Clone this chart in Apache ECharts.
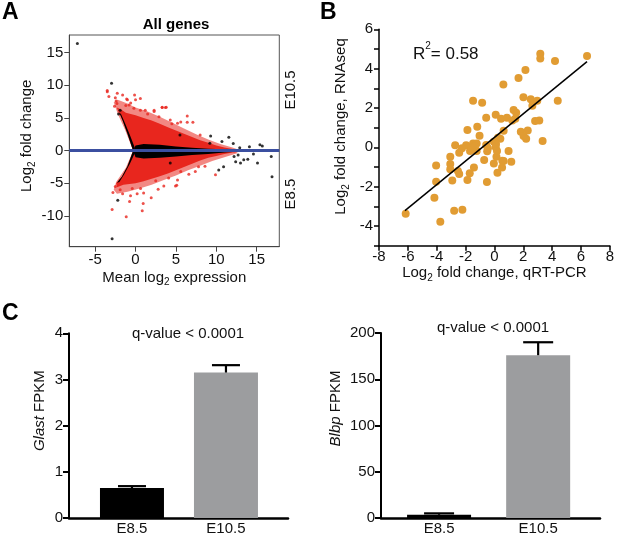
<!DOCTYPE html>
<html>
<head>
<meta charset="utf-8">
<script src="https://cdn.jsdelivr.net/npm/echarts@6.0.0/dist/echarts.min.js"></script>
<style>
  html, body { margin: 0; padding: 0; background: #fff; }
  #chart { width: 617px; height: 536px; }
</style>
</head>
<body>
<div id="chart"></div>
<script>
// panel A - MA plot, dense cloud outlines
var aRedFringe = [
  [-0.3, 0], [-1.3, 3.2], [-2.2, 5.6], [-2.7, 7.4], [-2.2, 7.8], [-1.0, 7.2], [0, 6.6],
  [1.5, 6.0], [3, 5.2], [4.5, 4.3], [6, 3.4], [7.5, 2.5], [9, 1.7], [10.5, 1.0], [12, 0.5],
  [12.6, 0.2], [12.6, -0.4], [11, -1.0], [9.5, -1.6], [8, -2.3], [6.5, -3.0], [5, -3.8],
  [3.5, -4.5], [2, -5.2], [0.5, -5.8], [-1, -6.3], [-2.3, -6.6], [-2.7, -6.0], [-2.4, -4.8],
  [-1.2, -2.6], [-0.3, 0]
];
var aRedOutline = [
  [-0.3, 0], [-1.0, 2.6], [-1.6, 4.6], [-2.2, 6.2], [-2.3, 6.6], [-1.8, 6.3], [-1.2, 5.8],
  [0, 5.4], [1, 5.0], [2, 4.6], [3, 4.1], [4, 3.6], [5, 3.1], [6, 2.6], [7, 2.1], [8, 1.6],
  [9, 1.2], [10, 0.8], [11, 0.5], [12, 0.25], [12.4, 0.1],
  [12.4, -0.3], [12, -0.3], [11, -0.5], [10, -0.8], [9, -1.1], [8, -1.5], [7, -2.0],
  [6, -2.5], [5, -3.0], [4, -3.5], [3, -3.9], [2, -4.3], [1, -4.7], [0, -5.0],
  [-1.5, -5.2], [-2.3, -5.6], [-2.4, -5.0], [-1.7, -4.0], [-1.0, -2.4], [-0.3, 0]
];
var aBlackCore = [
  [-0.3, 0], [0, 0.8], [1, 1.0], [3, 0.9], [5, 0.65], [7, 0.45], [9, 0.3], [11, 0.2],
  [12.5, 0.1], [12.5, -0.15], [11, -0.3], [9, -0.5], [7, -0.65], [5, -0.9], [3, -1.1],
  [1, -1.2], [0, -1.0]
];
var aBlackEdgeUp = [
  [-0.3, 0], [-1.0, 2.6], [-1.6, 4.6], [-2.0, 5.8], [-1.8, 5.6], [-1.3, 4.2], [-0.7, 2.4], [-0.1, 0.5]
];
var aBlackEdgeDown = [
  [-0.3, 0], [-1.0, -2.4], [-1.7, -4.0], [-2.3, -4.9], [-2.0, -4.8], [-1.4, -3.6], [-0.7, -2.0], [-0.1, -0.4]
];
var aRedDots = [
  [-3.5, 9.2], [-3.3, 8.3], [-2.4, 7.6], [-2.5, 8.1], [-2.3, 7.2], [-2.6, 6.8], [-0.12, 8.5],
  [0, 7.8], [-1.1, 7.9], [-0.6, 7.3], [-1.2, 6.9], [0.6, 6.2], [2.3, 6.2], [3.3, 6.6],
  [3.7, 6.6], [6.4, 5.3], [6.4, 4.35], [7.1, 4.35], [5.6, 4.4], [8.0, 2.4], [1.5, 5.6],
  [4.5, 4.1], [-2.8, -6.4], [-2.9, -9.0], [-1.15, -10.1], [0.83, -9.2], [0.95, -8.1],
  [-0.74, -7.8], [-0.62, -6.9], [1.94, -7.2], [0.62, -5.8], [-0.41, -5.8], [3.5, -5.4],
  [4.95, -5.4], [4.1, -4.2], [5.6, -3.2], [5.2, -4.5], [5.1, -5.3], [7.4, -3.2],
  [7.8, -2.45], [9.9, -3.7], [-1.9, -6.0], [2.5, -4.6], [-2.5, -5.5],
  [-3.5, 9.0], [-2.26, 8.8], [-1.6, 8.5], [-1.0, 7.8], [0.6, 8.0], [-0.8, 7.0],
  [-0.2, 6.5], [1.2, 6.2], [2.3, 6.0], [2.9, 5.2], [4.3, 4.7], [5.2, 4.2], [3.3, 6.65],
  [3.8, 6.65], [1.0, -6.5], [2.8, -5.9], [-1.6, -6.6], [0.2, -6.6], [6.6, -3.6], [8.6, -2.4]
];
var aBlackDots = [
  [-7.2, 16.4], [-2.97, 10.3], [-2.9, -13.5], [-2.2, -7.6], [9.3, 2.25], [10.7, 1.4],
  [11.55, 2.05], [12.1, 1.1], [12.9, 0.46], [14.1, 0.6], [15.4, 0.92], [15.7, 0.72],
  [16.8, -0.9], [16.9, -4.0], [12.4, -1.7], [13.0, -1.9], [13.4, -1.4], [13.9, -1.3],
  [14.6, -0.5], [15.1, -1.9], [12.2, -0.9], [12.7, -0.66], [9.2, 1.13], [10.9, -2.45],
  [10.3, -2.96], [5.5, 2.4], [4.3, -1.9], [-1.9, 6.2], [-2.1, 5.6]
];

// panel B - RNAseq vs qRT-PCR
var bPoints = [
  [6.42, 4.64], [3.18, 4.76], [3.18, 4.51], [4.2, 4.39], [2.15, 3.93], [1.67, 3.52],
  [0.62, 3.2], [4.39, 2.37], [2.01, 2.54], [2.52, 2.44], [2.97, 2.37], [2.63, 2.12],
  [1.33, 1.9], [1.51, 1.76], [0.09, 1.66], [0.46, 1.45], [0.87, 1.5], [1.24, 1.37],
  [1.45, 1.45], [2.82, 1.34], [3.11, 1.37], [1.83, 0.79], [2.31, 0.86], [2.02, 0.57],
  [2.2, 0.44], [3.34, 0.32], [0.64, 0.84], [0.25, 0.49], [0.41, 0.44], [-0.04, 0.28],
  [-1.48, 2.37], [-0.85, 2.27], [-0.57, 1.51], [-1.87, 0.88], [-1.19, 1.05], [-1.03, 0.59],
  [-2.72, 0.1], [-1.96, 0.1], [-1.48, 0.2], [-1.23, 0.2], [-1.69, -0.19], [-1.23, -0.19],
  [-0.57, 0.12], [-2.44, -0.27], [-3.06, -0.48], [-3.06, -0.85], [-3.06, -1.12],
  [-2.53, -1.2], [-2.44, -1.36], [-2.92, -1.68], [-1.42, -1.02], [-1.71, -1.32],
  [-1.87, -1.66], [-0.71, -0.65], [-0.52, -1.76], [-0.04, -0.82], [0.09, 0], [0.14, -0.48],
  [0.21, -1.29], [0.55, -0.68], [0.11, 0.17], [0.18, -0.19], [0.98, -0.19], [0.64, -0.7],
  [1.17, -0.73], [0.53, -1.02], [-0.5, -0.2], [-0.45, -0.05], [-1.6, -0.05], [-1.35, 0.05],
  [-4.04, -0.92], [-4.04, -1.75], [-4.16, -2.56], [-6.15, -3.38], [-3.75, -3.78],
  [-2.79, -3.22], [-2.22, -3.17], [-2.25, -0.05]
];
var bFitLine = [[-6.2, -3.22], [6.42, 4.36]];

// panel C - FPKM bars
var cStages = ["E8.5", "E10.5"];
var glastMean = [0.65, 3.15];
var glastErr = [0.69, 3.31];
var blbpMean = [3.5, 176];
var blbpErr = [5, 190];

var FONT = "Arial, 'Liberation Sans', sans-serif";
var RED = "#e8261e";
var ORANGE = "#e19c33";

var subRich = {
  n: { fontSize: 15, lineHeight: 20, fontFamily: FONT, color: "#111", verticalAlign: "middle" },
  s: { fontSize: 10, lineHeight: 20, fontFamily: FONT, color: "#111", verticalAlign: "bottom" }
};

function polygonSeries(outline, color, z) {
  return {
    type: "custom",
    xAxisIndex: 0,
    yAxisIndex: 0,
    coordinateSystem: "cartesian2d",
    silent: true,
    z: z,
    data: [[outline[0][0], outline[0][1]]],
    renderItem: function(params, api) {
      var pts = outline.map(function(p) {
        return api.coord(p);
      });
      return {
        type: "polygon",
        shape: { points: pts },
        style: { fill: color }
      };
    }
  };
}

function errorSeries(idx, means, errs, cap) {
  var data = means.map(function(m, i) {
    return [i + 1, m, errs[i]];
  });
  return {
    type: "custom",
    xAxisIndex: idx,
    yAxisIndex: idx,
    silent: true,
    z: 5,
    encode: { x: 0, y: 2 },
    data: data,
    renderItem: function(params, api) {
      var x = api.value(0);
      var lo = api.coord([x, api.value(1)]);
      var hi = api.coord([x, api.value(2)]);
      var st = { stroke: "#000", lineWidth: 2.2 };
      return {
        type: "group",
        children: [
          { type: "line", shape: { x1: lo[0], y1: lo[1], x2: hi[0], y2: hi[1] }, style: st },
          { type: "line", shape: { x1: hi[0] - cap / 2, y1: hi[1], x2: hi[0] + cap / 2, y2: hi[1] }, style: st }
        ]
      };
    }
  };
}

function barSeries(idx, means) {
  return {
    type: "bar",
    xAxisIndex: idx,
    yAxisIndex: idx,
    barWidth: 64,
    silent: true,
    data: means.map(function(m, i) {
      return { value: [i + 1, m], itemStyle: { color: i === 0 ? "#000" : "#9c9d9f" } };
    })
  };
}

var labelStyle = { fontSize: 15, color: "#111", fontFamily: FONT };

var option = {
  animation: false,
  backgroundColor: "#fff",
  grid: [
    { left: 69.3, top: 35, width: 210, height: 211.7, show: true, borderColor: "#555", borderWidth: 1, backgroundColor: "transparent" },
    { left: 379, top: 29.3, width: 233.3, height: 216.4 },
    { left: 69, top: 333.3, width: 219, height: 186 },
    { left: 381, top: 333, width: 219, height: 186 }
  ],
  xAxis: [
    {
      gridIndex: 0, type: "value", min: -8.2, max: 17.8,
      splitLine: { show: false },
      axisLine: { onZero: false, lineStyle: { color: "#444", width: 1 } },
      axisTick: { customValues: [-5, 0, 5, 10, 15], length: 5, lineStyle: { color: "#444" } },
      axisLabel: Object.assign({ customValues: [-5, 0, 5, 10, 15], margin: 6 }, labelStyle),
      name: "{n|Mean log}{s|2}{n| expression}", nameLocation: "middle", nameGap: 21,
      nameTextStyle: { rich: subRich }
    },
    {
      gridIndex: 1, type: "value", min: -8, max: 8, interval: 2,
      splitLine: { show: false },
      axisLine: { onZero: false, lineStyle: { color: "#000", width: 1.5 } },
      axisTick: { length: 5, lineStyle: { color: "#000", width: 1.5 } },
      axisLabel: Object.assign({ margin: 4, showMaxLabel: true, showMinLabel: true }, labelStyle),
      name: "{n|Log}{s|2}{n| fold change, qRT-PCR}", nameLocation: "middle", nameGap: 17,
      nameTextStyle: { rich: subRich }
    },
    {
      gridIndex: 2, type: "value", min: 0.33, max: 2.66,
      splitLine: { show: false },
      axisLine: { onZero: false, lineStyle: { color: "#000", width: 2.5 } },
      axisTick: { show: false },
      axisLabel: Object.assign({
        customValues: [1, 2], margin: 3,
        formatter: function(v) { return cStages[Math.round(v) - 1]; }
      }, labelStyle)
    },
    {
      gridIndex: 3, type: "value", min: 0.414, max: 2.624,
      splitLine: { show: false },
      axisLine: { onZero: false, lineStyle: { color: "#000", width: 2.5 } },
      axisTick: { show: false },
      axisLabel: Object.assign({
        customValues: [1, 2], margin: 3,
        formatter: function(v) { return cStages[Math.round(v) - 1]; }
      }, labelStyle)
    }
  ],
  yAxis: [
    {
      gridIndex: 0, type: "value", min: -14.7, max: 17.7,
      splitLine: { show: false },
      axisLine: { onZero: false, lineStyle: { color: "#444", width: 1 } },
      axisTick: { customValues: [-10, -5, 0, 5, 10, 15], length: 5, lineStyle: { color: "#444" } },
      axisLabel: Object.assign({ customValues: [-10, -5, 0, 5, 10, 15], margin: 6 }, labelStyle),
      name: "{n|Log}{s|2}{n| fold change}", nameLocation: "middle", nameGap: 32,
      nameTextStyle: { rich: subRich, padding: [0, 0, 0, 10] }
    },
    {
      gridIndex: 1, type: "value", min: -5, max: 6,
      splitLine: { show: false },
      axisLine: { onZero: false, lineStyle: { color: "#000", width: 1.5 } },
      axisTick: { customValues: [-5, -4, -3, -2, -1, 0, 1, 2, 3, 4, 5, 6], length: 5, lineStyle: { color: "#000", width: 1.5 } },
      axisLabel: Object.assign({ customValues: [-4, -2, 0, 2, 4, 6], margin: 6 }, labelStyle),
      name: "{n|Log}{s|2}{n| fold change, RNAseq}", nameLocation: "middle", nameGap: 28,
      nameTextStyle: { rich: subRich, padding: [0, 0, 0, 22] }
    },
    {
      gridIndex: 2, type: "value", min: 0, max: 4, interval: 1,
      splitLine: { show: false },
      axisLine: { show: true, lineStyle: { color: "#000", width: 2 } },
      axisTick: { show: true, length: 6, lineStyle: { color: "#000", width: 2 } },
      axisLabel: Object.assign({ margin: 6 }, labelStyle),
      name: "{i|Glast}{n| FPKM}", nameLocation: "middle", nameGap: 22,
      nameTextStyle: {
        padding: [0, 0, 0, 30],
        rich: {
          n: { fontSize: 15, fontFamily: FONT, color: "#111" },
          i: { fontSize: 15, fontFamily: FONT, color: "#111", fontStyle: "italic" }
        }
      }
    },
    {
      gridIndex: 3, type: "value", min: 0, max: 200, interval: 50,
      splitLine: { show: false },
      axisLine: { show: true, lineStyle: { color: "#000", width: 2 } },
      axisTick: { show: true, length: 6, lineStyle: { color: "#000", width: 2 } },
      axisLabel: Object.assign({ margin: 6 }, labelStyle),
      name: "{i|Blbp}{n| FPKM}", nameLocation: "middle", nameGap: 38,
      nameTextStyle: {
        padding: [0, 0, 0, 34],
        rich: {
          n: { fontSize: 15, fontFamily: FONT, color: "#111" },
          i: { fontSize: 15, fontFamily: FONT, color: "#111", fontStyle: "italic" }
        }
      }
    }
  ],
  series: [
    polygonSeries(aRedFringe, "rgba(232,38,30,0.55)", 1),
    polygonSeries(aRedOutline, RED, 1),
    polygonSeries(aBlackCore, "#000", 2),
    polygonSeries(aBlackEdgeUp, "#000", 2),
    polygonSeries(aBlackEdgeDown, "#000", 2),
    {
      type: "scatter", xAxisIndex: 0, yAxisIndex: 0, symbolSize: 3, silent: true, z: 3,
      itemStyle: { color: RED }, data: aRedDots
    },
    {
      type: "scatter", xAxisIndex: 0, yAxisIndex: 0, symbolSize: 3, silent: true, z: 3,
      itemStyle: { color: "#000" }, data: aBlackDots,
      markLine: {
        silent: true, symbol: "none", label: { show: false },
        lineStyle: { color: "#3b4fa0", width: 3, type: "solid" },
        data: [{ yAxis: 0 }]
      }
    },
    {
      type: "scatter", xAxisIndex: 1, yAxisIndex: 1, symbolSize: 8, silent: true,
      itemStyle: { color: ORANGE, opacity: 1 }, data: bPoints
    },
    {
      type: "line", xAxisIndex: 1, yAxisIndex: 1, symbol: "none", silent: true, z: 4,
      lineStyle: { color: "#000", width: 1.5 }, data: bFitLine
    },
    barSeries(2, glastMean),
    errorSeries(2, glastMean, glastErr, 28),
    barSeries(3, blbpMean),
    errorSeries(3, blbpMean, blbpErr, 30)
  ],
  graphic: [
    { type: "text", left: 2, top: 1, style: { text: "A", font: "bold 23px " + FONT, fill: "#000" } },
    { type: "text", left: 320, top: 1, style: { text: "B", font: "bold 23px " + FONT, fill: "#000" } },
    { type: "text", left: 2, top: 302, style: { text: "C", font: "bold 23px " + FONT, fill: "#000" } },
    { type: "text", x: 176, y: 25, style: { text: "All genes", font: "bold 15px " + FONT, fill: "#000", align: "center", verticalAlign: "middle" } },
    { type: "text", x: 291, y: 90, rotation: Math.PI / 2, style: { text: "E10.5", font: "15px " + FONT, fill: "#111", align: "center", verticalAlign: "middle" } },
    { type: "text", x: 291, y: 194, rotation: Math.PI / 2, style: { text: "E8.5", font: "15px " + FONT, fill: "#111", align: "center", verticalAlign: "middle" } },
    {
      type: "text", x: 413, y: 52,
      style: {
        text: "{n|R}{p|2}{n|= 0.58}", verticalAlign: "middle",
        rich: {
          n: { fontSize: 17, lineHeight: 22, fontFamily: FONT, fill: "#111", verticalAlign: "bottom" },
          p: { fontSize: 10, lineHeight: 22, fontFamily: FONT, fill: "#111", verticalAlign: "top" }
        }
      }
    },
    { type: "text", x: 188, y: 334, style: { text: "q-value < 0.0001", font: "15px " + FONT, fill: "#111", align: "center", verticalAlign: "middle" } },
    { type: "text", x: 493, y: 328, style: { text: "q-value < 0.0001", font: "15px " + FONT, fill: "#111", align: "center", verticalAlign: "middle" } }
  ]
};

var chart = echarts.init(document.getElementById("chart"), null, { renderer: "canvas" });
chart.setOption(option);
</script>
</body>
</html>
